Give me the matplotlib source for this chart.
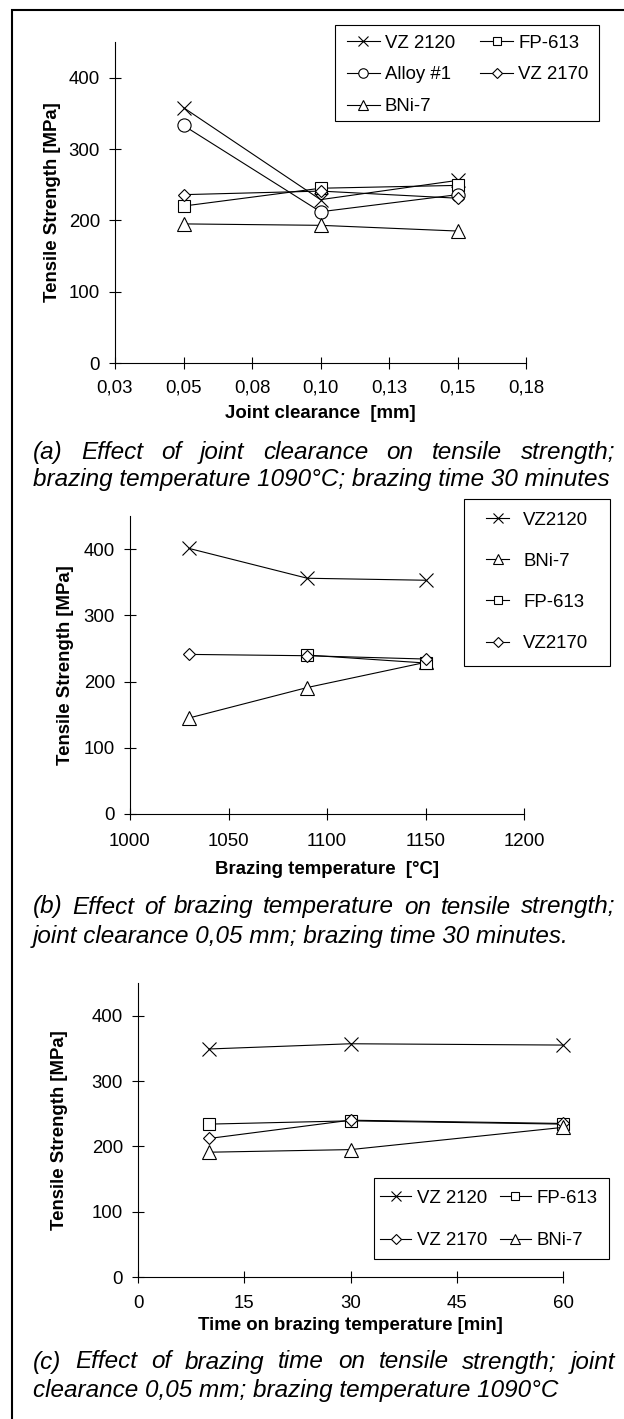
import numpy as np
import matplotlib
matplotlib.use("Agg")
import matplotlib.pyplot as plt
from matplotlib.patches import Rectangle

plt.rcParams['font.family'] = ['Liberation Sans', 'DejaVu Sans']

# ---------------- data ----------------
# (a) joint clearance
clearance = [0.05, 0.10, 0.15]
clearance_ticks = [0.025, 0.05, 0.075, 0.10, 0.125, 0.15, 0.175]
clearance_ticklabels = ["0,03", "0,05", "0,08", "0,10", "0,13", "0,15", "0,18"]
a_vz2120 = [358, 229, 256]
a_alloy1 = [333, 212, 236]
a_fp613 = [220, 245, 249]
a_vz2170 = [236, 241, 231]
a_bni7 = [195, 193, 185]

# (b) brazing temperature
temperature = [1030, 1090, 1150]
temperature_ticks = [1000, 1050, 1100, 1150, 1200]
b_vz2120 = [401, 356, 353]
b_bni7 = [145, 191, 229]
b_fp613 = [np.nan, 240, 228]
b_vz2170 = [241, 239, 234]

# (c) brazing time
time_min = [10, 30, 60]
time_ticks = [0, 15, 30, 45, 60]
c_vz2120 = [349, 357, 355]
c_fp613 = [234, 239, 234]
c_vz2170 = [212, 240, 235]
c_bni7 = [191, 195, 229]

strength_ticks = [0, 100, 200, 300, 400]

captions = {
    "a": ("(a) Effect of joint clearance on tensile strength;",
          "brazing temperature 1090°C; brazing time 30 minutes"),
    "b": ("(b) Effect of brazing temperature on tensile strength;",
          "joint clearance 0,05 mm; brazing time 30 minutes."),
    "c": ("(c) Effect of brazing time on tensile strength; joint",
          "clearance 0,05 mm; brazing temperature 1090°C"),
}

# ---------------- layout helpers ----------------
W, H = 624, 1419
fig = plt.figure(figsize=(W / 100, H / 100), dpi=100)
fig.patch.set_facecolor('white')

FS = 13.4
CAP_FS = 17.5


def rect(l, t, r, b):
    return [l / W, 1 - b / H, (r - l) / W, (b - t) / H]


style = {
    "VZ 2120": dict(marker='x', ms=10, mew=0.8),
    "Alloy #1": dict(marker='o', ms=9.5, mew=0.8),
    "FP-613": dict(marker='s', ms=8.6, mew=0.8),
    "VZ 2170": dict(marker='D', ms=6.6, mew=0.8),
    "BNi-7": dict(marker='^', ms=9.5, mew=0.8),
}


def plot_series(ax, x, y, name, label=None):
    st = style[name]
    line, = ax.plot(x, y, color='black', lw=0.8, marker=st['marker'],
                    ms=st['ms'], mew=st['mew'], mfc='white', mec='black',
                    label=label if label else name, clip_on=False, zorder=3)
    return line


def setup_axes(ax, xlim, xticks, xticklabels, xpad, ypad):
    ax.set_xlim(*xlim)
    ax.set_ylim(0, 450)
    ax.set_xticks(xticks)
    ax.set_xticklabels(xticklabels)
    ax.set_yticks(strength_ticks)
    ax.set_yticklabels([str(v) for v in strength_ticks])
    for s in ('top', 'right'):
        ax.spines[s].set_visible(False)
    for s in ('left', 'bottom'):
        ax.spines[s].set_linewidth(0.8)
        ax.spines[s].set_color('black')
    ax.tick_params(axis='both', direction='inout', length=8, width=0.8,
                   labelsize=FS, colors='black')
    ax.tick_params(axis='x', pad=xpad)
    ax.tick_params(axis='y', pad=ypad)
    ax.set_facecolor('none')


def set_labels(ax, box, xlabel, xlab_y, ylab_x):
    l, t, r, b = box
    ax.set_xlabel(xlabel, fontsize=FS, fontweight='bold', va='center', ha='center')
    ax.xaxis.set_label_coords(0.5, (b - xlab_y) / (b - t))
    ax.set_ylabel("Tensile Strength [MPa]", fontsize=FS, fontweight='bold',
                  va='center', ha='center')
    ax.yaxis.set_label_coords((ylab_x - l) / (r - l), 0.5)


BASE_OFF = 6.5  # px from visual line centre to baseline


def justified(words_line, x0, x1, y):
    renderer = fig.canvas.get_renderer()
    words = words_line.split(' ')
    texts = [fig.text(0, 1 - (y + BASE_OFF) / H, w, fontsize=CAP_FS,
                      style='italic', va='baseline', ha='left') for w in words]
    widths = [t.get_window_extent(renderer).width for t in texts]
    gap = (x1 - x0 - sum(widths)) / (len(words) - 1)
    x = x0
    for t, w in zip(texts, widths):
        t.set_x(x / W)
        x += w + gap


def caption(key, y1, y2, x0=33, x1=615):
    l1, l2 = captions[key]
    justified(l1, x0, x1, y1)
    fig.text(x0 / W, 1 - (y2 + BASE_OFF) / H, l2, fontsize=CAP_FS,
             style='italic', va='baseline', ha='left')


def legend(ax, handles, frame, hx, row1_y, ncol, **kw):
    # legend content anchored at first handle / first row; frame drawn separately
    leg = ax.legend(handles=handles, loc='upper left',
                    bbox_to_anchor=(hx / W, 1 - (row1_y - 8.5) / H),
                    bbox_transform=fig.transFigure, borderaxespad=0,
                    borderpad=0, frameon=False,
                    ncol=ncol, fontsize=FS, markerscale=0.72, **kw)
    l, t, r, b = frame
    fig.patches.append(Rectangle((l / W, 1 - b / H), (r - l) / W, (b - t) / H,
                                 transform=fig.transFigure, fill=False,
                                 edgecolor='black', linewidth=0.8, zorder=-1))
    return leg


# ---------------- panel (a) ----------------
box_a = (115, 42, 526, 363)
ax_a = fig.add_axes(rect(*box_a))
setup_axes(ax_a, (0.025, 0.175), clearance_ticks, clearance_ticklabels, 8, 6.8)
h1 = plot_series(ax_a, clearance, a_vz2120, "VZ 2120")
h2 = plot_series(ax_a, clearance, a_fp613, "FP-613")
h3 = plot_series(ax_a, clearance, a_alloy1, "Alloy #1")
h4 = plot_series(ax_a, clearance, a_vz2170, "VZ 2170")
h5 = plot_series(ax_a, clearance, a_bni7, "BNi-7")
set_labels(ax_a, box_a, "Joint clearance  [mm]", 413, 53)
legend(ax_a, [h1, h3, h5, h2, h4], (335, 25, 599, 121), 347, 43, 2,
       handlelength=1.77, handletextpad=0.27, columnspacing=1.35,
       labelspacing=0.8)
caption("a", 452, 480)

# ---------------- panel (b) ----------------
box_b = (130, 516, 524, 814)
ax_b = fig.add_axes(rect(*box_b))
setup_axes(ax_b, (1000, 1200), temperature_ticks,
           [str(v) for v in temperature_ticks], 9.4, 6.8)
g1 = plot_series(ax_b, temperature, b_vz2120, "VZ 2120", "VZ2120")
g2 = plot_series(ax_b, temperature, b_bni7, "BNi-7")
g3 = plot_series(ax_b, temperature, b_fp613, "FP-613")
g4 = plot_series(ax_b, temperature, b_vz2170, "VZ 2170", "VZ2170")
set_labels(ax_b, box_b, "Brazing temperature  [°C]", 870, 65)
legend(ax_b, [g1, g2, g3, g4], (464, 499, 610, 666), 486, 520, 1,
       handlelength=1.24, handletextpad=0.75, labelspacing=1.3)
caption("b", 907, 936)

# ---------------- panel (c) ----------------
box_c = (138, 983, 563, 1277)
ax_c = fig.add_axes(rect(*box_c))
setup_axes(ax_c, (0, 60), time_ticks, [str(v) for v in time_ticks], 8.7, 6.8)
k1 = plot_series(ax_c, time_min, c_vz2120, "VZ 2120")
k2 = plot_series(ax_c, time_min, c_fp613, "FP-613")
k3 = plot_series(ax_c, time_min, c_vz2170, "VZ 2170")
k4 = plot_series(ax_c, time_min, c_bni7, "BNi-7")
set_labels(ax_c, box_c, "Time on brazing temperature [min]", 1326, 59)
legend(ax_c, [k1, k3, k2, k4], (374, 1178, 609, 1259), 380, 1198, 2,
       handlelength=1.67, handletextpad=0.32, columnspacing=0.65,
       labelspacing=1.38)
caption("c", 1362, 1390)

# ---------------- outer frame ----------------
fig.patches.append(Rectangle((11.5 / W, -0.01), (W + 10) / W, 1 - 9.5 / H + 0.01,
                             transform=fig.transFigure, fill=False,
                             edgecolor='black', linewidth=1.5, zorder=10))

fig.savefig("out.png", dpi=100, facecolor='white')
